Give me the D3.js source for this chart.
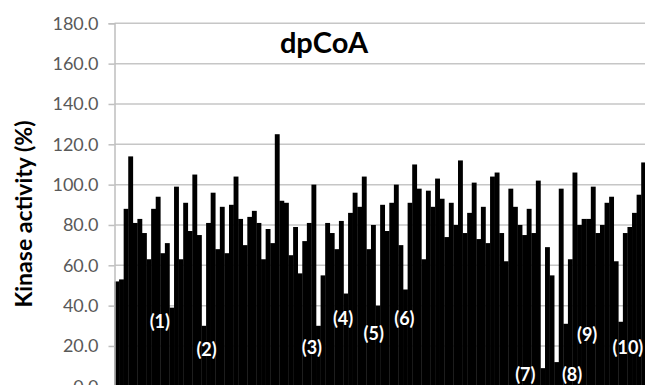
<!DOCTYPE html>
<html>
<head>
<meta charset="utf-8">
<script src="https://cdn.jsdelivr.net/npm/d3@7"></script>
<style>
  html, body { margin: 0; padding: 0; background: #fff; }
  svg { display: block; }
</style>
</head>
<body>
<svg id="chart" width="645" height="385"></svg>
<script>
const title = "dpCoA";
const yLabel = "Kinase activity (%)";
const yTicks = [0, 20, 40, 60, 80, 100, 120, 140, 160, 180];
const values = [
  52, 53, 88, 114, 81, 83, 76, 63, 88, 94,
  66, 71, 39, 99, 63, 91, 77, 105, 75, 30,
  81, 96, 68, 89, 66, 90, 104, 83, 70, 84,
  87, 81, 63, 78, 71, 125, 92, 91, 65, 79,
  56, 72, 81, 100, 30, 55, 81, 76, 68, 82,
  46, 86, 96, 89, 104, 68, 80, 40, 90, 77,
  91, 100, 70, 48, 91, 110, 98, 63, 97, 89,
  103, 93, 74, 91, 80, 112, 76, 86, 101, 73,
  89, 71, 104, 106, 76, 62, 98, 89, 80, 75,
  88, 76, 102, 9, 69, 55, 12, 98, 31, 63,
  106, 80, 83, 83, 99, 76, 80, 91, 94, 62,
  32, 76, 79, 86, 95, 111
];
// annotation labels: position along the bar axis (in bar units) and height (in %)
const markerText = ["(1)", "(2)", "(3)", "(4)", "(5)", "(6)", "(7)", "(8)", "(9)", "(10)"];
const markerPos = [9.9, 20.1, 43.1, 49.9, 56.6, 63.3, 89.7, 99.9, 103.2, 112.1];
const markerValue = [28.9, 15.0, 16.0, 30.6, 23.2, 30.6, 2.4, 2.4, 22.5, 16.1];

const svg = d3.select("#chart");
const left = 114.5, pitch = 4.58;
const n = values.length;
const x = d3.scaleBand().domain(d3.range(n))
  .range([left, left + pitch * n]).padding(0);
const xPos = d3.scaleLinear().domain([0, n]).range([left, left + pitch * n]);
const y = d3.scaleLinear().domain([0, 180]).range([386.3, 23.3]);
const font = "Lato, 'Open Sans', sans-serif";

// gridlines
svg.append("g").selectAll("line").data(yTicks).join("line")
  .attr("x1", left).attr("x2", 645)
  .attr("y1", d => y(d)).attr("y2", d => y(d))
  .attr("stroke", "#c6c6c6").attr("stroke-width", 1.5);

// bars
svg.append("g").selectAll("rect").data(values).join("rect")
  .attr("x", (d, i) => x(i))
  .attr("width", x.bandwidth() + 0.3)
  .attr("y", d => y(d))
  .attr("height", d => y(0) - y(d))
  .attr("fill", "#000");

// y axis
const yAxis = d3.axisLeft(y).tickValues(yTicks).tickFormat(d3.format(".1f"))
  .tickSize(6).tickPadding(10);
const ga = svg.append("g").attr("transform", `translate(${left},0)`).call(yAxis);
ga.select(".domain").attr("stroke", "#bfbfbf").attr("stroke-width", 1.5);
ga.selectAll(".tick line").attr("stroke", "#bfbfbf").attr("stroke-width", 1.5);
ga.selectAll(".tick text").attr("fill", "#595959")
  .style("font-family", font).style("font-size", "18px");

// y label
svg.append("text")
  .attr("transform", "translate(32,214) rotate(-90)")
  .attr("text-anchor", "middle")
  .style("font-family", font)
  .style("font-size", "23px").style("font-weight", "bold")
  .attr("fill", "#000")
  .text(yLabel);

// title
svg.append("text")
  .attr("x", 324).attr("y", 53)
  .attr("text-anchor", "middle")
  .style("font-family", font)
  .style("font-size", "29px").style("font-weight", "bold")
  .attr("fill", "#000")
  .text(title);

// markers
svg.append("g").selectAll("text").data(markerText).join("text")
  .attr("x", (d, i) => xPos(markerPos[i]))
  .attr("y", (d, i) => y(markerValue[i]))
  .attr("text-anchor", "middle")
  .style("font-family", font)
  .style("font-size", "18px").style("font-weight", "bold")
  .attr("fill", "#fff")
  .text(d => d);
</script>
</body>
</html>
